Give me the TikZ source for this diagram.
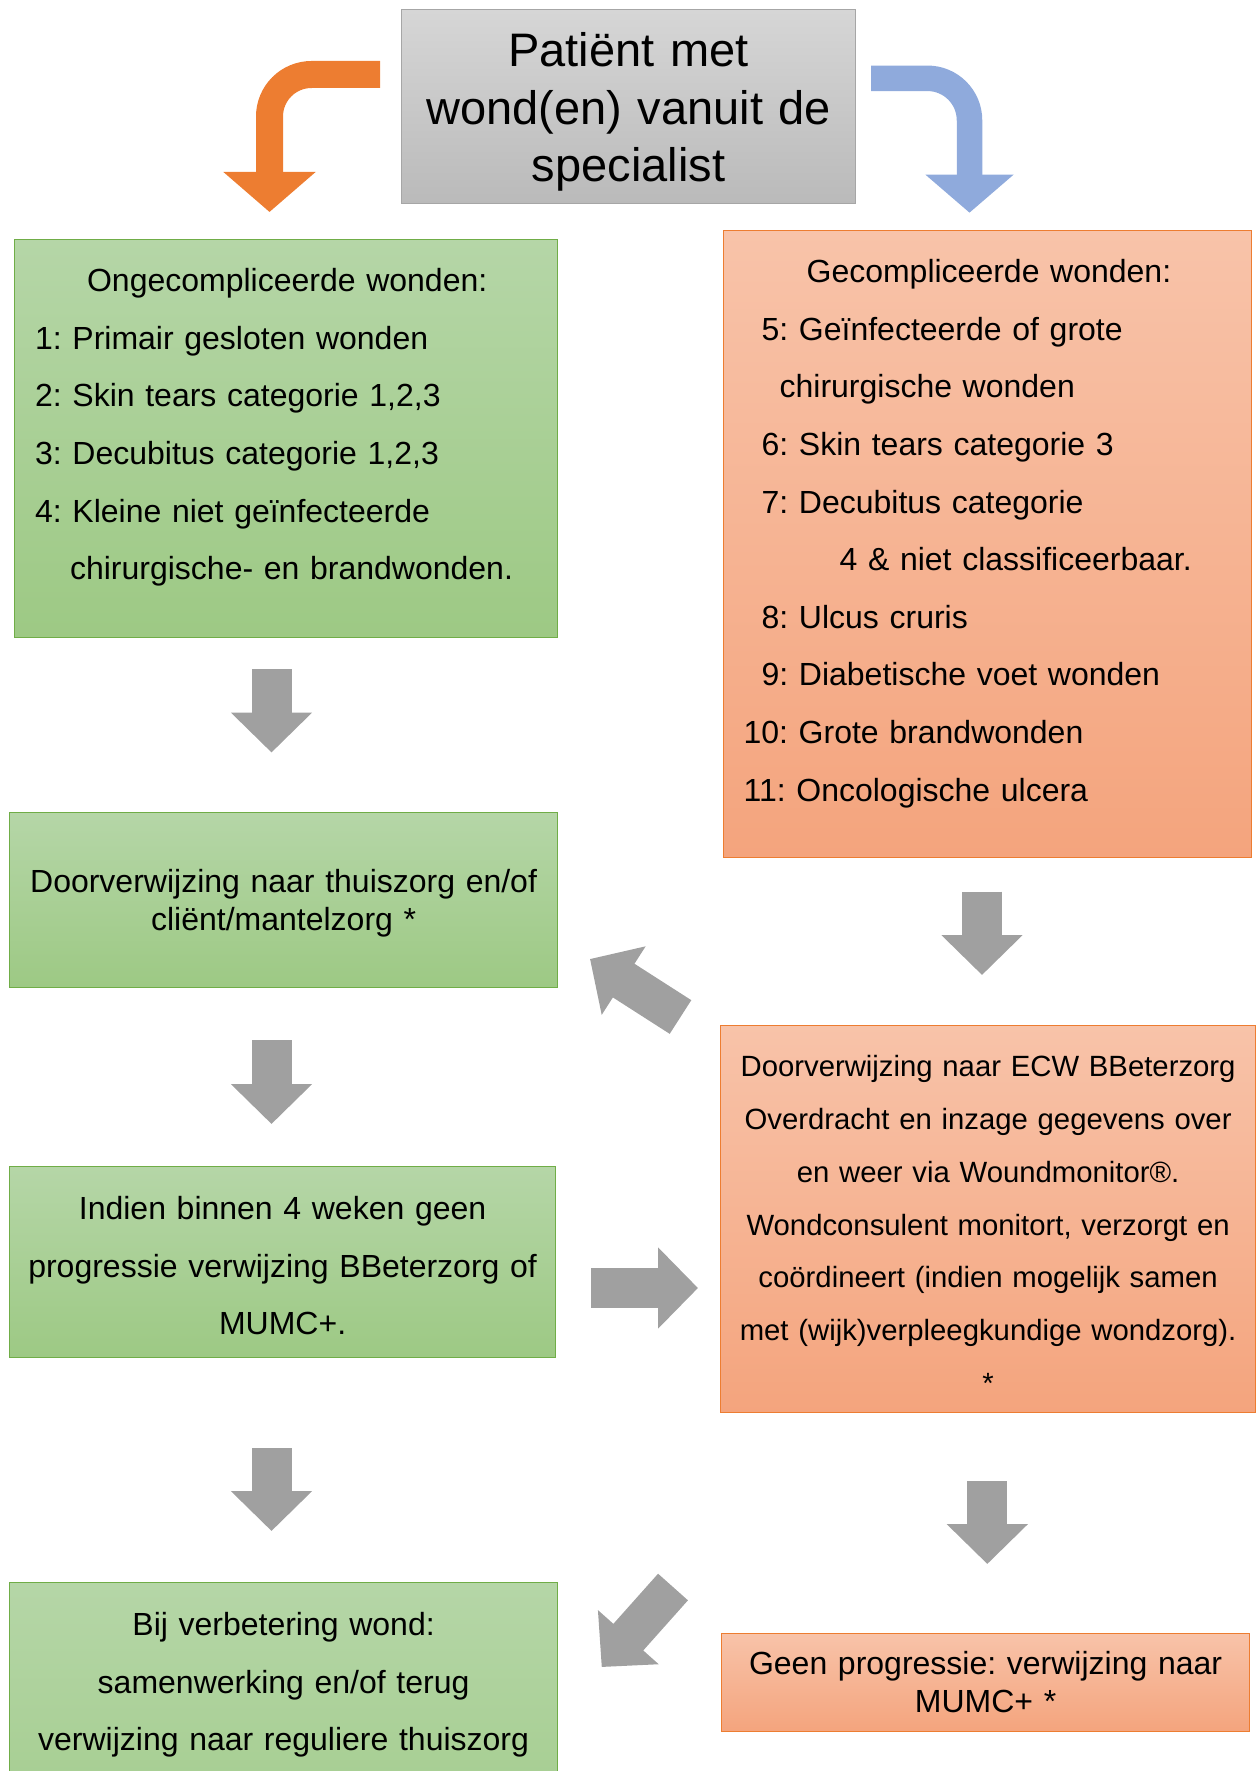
\documentclass[tikz,border=0pt]{standalone}
\usepackage{fontspec}
\setmainfont{Liberation Sans}
\usetikzlibrary{arrows.meta}
\frenchspacing

\definecolor{greentop}{HTML}{B5D6A7}
\definecolor{greenbot}{HTML}{9DC984}
\definecolor{greenline}{HTML}{70AD47}
\definecolor{salmontop}{HTML}{F8C3A9}
\definecolor{salmonbot}{HTML}{F4A47D}
\definecolor{salmonline}{HTML}{ED7D31}
\definecolor{titletop}{HTML}{D6D6D6}
\definecolor{titlebot}{HTML}{BABABA}
\definecolor{titleline}{HTML}{A6A6A6}
\definecolor{bendorange}{HTML}{ED7D31}
\definecolor{bendblue}{HTML}{8FAADC}
\definecolor{flowgray}{HTML}{A0A0A0}

\begin{document}
\begin{tikzpicture}[x=1pt, y=-1pt,
    box/.style={anchor=north west, inner ysep=0pt, line width=1.2pt},
    greenbox/.style={box, draw=greenline, top color=greentop, bottom color=greenbot},
    salmonbox/.style={box, draw=salmonline, top color=salmontop, bottom color=salmonbot},
    titlebox/.style={box, draw=titleline, top color=titletop, bottom color=titlebot},
    normal/.style={font=\fontsize{32}{57.6}\selectfont},
    tight/.style={font=\fontsize{32}{37.5}\selectfont},
    flow/.style={draw=flowgray, line width=40pt, -{Triangle[width=79pt,length=40pt]}},
    bendleft/.style={draw=bendorange, line width=27pt, rounded corners=42pt,
        -{Triangle[width=90pt,length=40pt]}},
    bendright/.style={draw=bendblue, line width=25.5pt, rounded corners=42pt,
        -{Triangle[width=86pt,length=38pt]}}]
    \useasboundingbox (0,0) rectangle (1258,1771);

    % start
    \node[titlebox, inner xsep=0pt, text width=454pt, text height=57pt, text depth=137pt,
        align=center, font=\fontsize{47}{57.6}\selectfont] (patient) at (401,9)
        {Patiënt met\\wond(en) vanuit de\\specialist};

    % left column
    \node[greenbox, normal, inner xsep=21pt, text width=501pt, text height=52pt,
        text depth=346pt, align=left] (simple) at (13.5,239)
        {\hspace*{52pt}Ongecompliceerde wonden:\\
         1: Primair gesloten wonden\\
         2: Skin tears categorie 1,2,3\\
         3: Decubitus categorie 1,2,3\\
         4: Kleine niet geïnfecteerde\\
         \hspace*{35pt}chirurgische- en brandwonden.};
    \node[greenbox, tight, inner xsep=0pt, text width=548pt, text height=80pt,
        text depth=95pt, align=center] (homecare) at (9,812)
        {Doorverwijzing naar thuiszorg en/of\\cliënt/mantelzorg *};
    \node[greenbox, normal, inner xsep=0pt, text width=546pt, text height=53pt,
        text depth=138pt, align=center] (fourweeks) at (9,1166)
        {Indien binnen 4 weken geen\\progressie verwijzing BBeterzorg of\\MUMC+.};
    \node[greenbox, normal, inner xsep=0pt, text width=548pt, text height=53pt,
        text depth=300pt, align=center] (improved) at (9,1582)
        {Bij verbetering wond:\\samenwerking en/of terug\\verwijzing naar reguliere thuiszorg};

    % right column
    \node[salmonbox, normal, inner xsep=20pt, text width=488pt, text height=52pt,
        text depth=575pt, align=left] (complex) at (723,230)
        {\hspace*{63pt}Gecompliceerde wonden:\\
         \hspace*{18pt}5: Geïnfecteerde of grote\\
         \hspace*{36pt}chirurgische wonden\\
         \hspace*{18pt}6: Skin tears categorie 3\\
         \hspace*{18pt}7: Decubitus categorie\\
         \hspace*{96pt}4 \& niet classificeerbaar.\\
         \hspace*{18pt}8: Ulcus cruris\\
         \hspace*{18pt}9: Diabetische voet wonden\\
         10: Grote brandwonden\\
         11: Oncologische ulcera};
    \node[salmonbox, inner xsep=0pt, text width=535pt, text height=51pt, text depth=336pt,
        align=center, font=\fontsize{29.3}{52.8}\selectfont] (ecw) at (720,1025)
        {Doorverwijzing naar ECW BBeterzorg\\Overdracht en inzage gegevens over\\
         en weer via Woundmonitor®.\\Wondconsulent monitort, verzorgt en\\
         coördineert (indien mogelijk samen\\met (wijk)verpleegkundige wondzorg).\\{}*};
    \node[salmonbox, tight, inner xsep=0pt, text width=528pt, text height=41pt,
        text depth=57pt, align=center] (noprogress) at (721,1633)
        {Geen progressie: verwijzing naar\\MUMC+ *};

    % arrow ends
    \coordinate (bl0) at (380,74.5);   \coordinate (bl1) at (269.5,212);
    \coordinate (br0) at (871,78.3);   \coordinate (br1) at (969.5,212.7);
    \coordinate (la0) at (271.5,669);  \coordinate (la1) at (271.5,752.5);
    \coordinate (lb0) at (271.5,1040); \coordinate (lb1) at (271.5,1124);
    \coordinate (lc0) at (271.5,1448); \coordinate (lc1) at (271.5,1531);
    \coordinate (ra0) at (982,891.5);  \coordinate (ra1) at (982,975);
    \coordinate (rb0) at (987.3,1481); \coordinate (rb1) at (987.3,1564);
    \coordinate (back0) at (680.5,1017); \coordinate (back1) at (590,959);
    \coordinate (over0) at (591,1288);   \coordinate (over1) at (698,1288);
    \coordinate (down0) at (673,1587);   \coordinate (down1) at (601.7,1667);

    % split from the specialist
    \draw[bendleft] (bl0) -| (bl1);
    \draw[bendright] (br0) -| (br1);

    % gray flow arrows
    \foreach \a in {la, lb, lc, ra, rb, back, over, down}
        \draw[flow] (\a0) -- (\a1);
\end{tikzpicture}
\end{document}
